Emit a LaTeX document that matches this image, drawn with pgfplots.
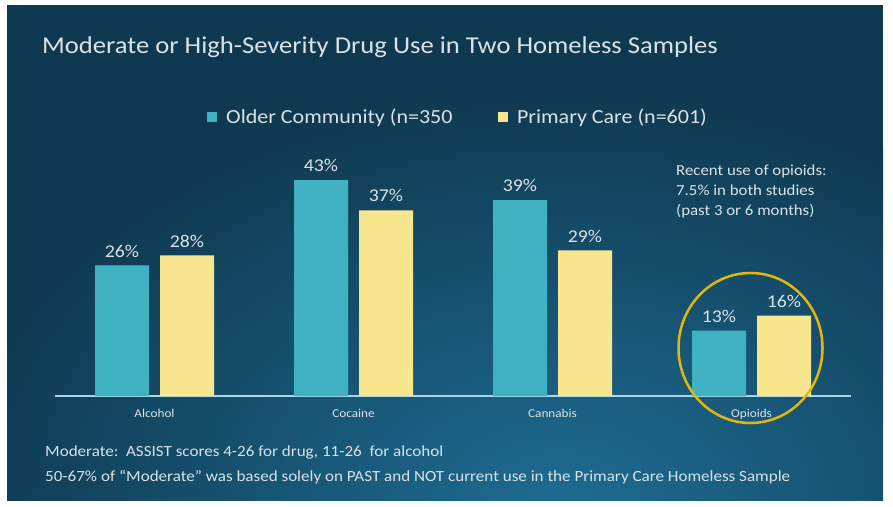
\documentclass[border=0pt]{standalone}
\usepackage{pgfplots}
\pgfplotsset{compat=1.18}
\usepackage{fontspec}
\setmainfont{Carlito}[FakeStretch=1.1]
\definecolor{bgdark}{RGB}{15,57,80}
\definecolor{bglight}{RGB}{30,108,146}
\definecolor{tealbar}{RGB}{64,177,193}
\definecolor{yellowbar}{RGB}{248,230,142}
\definecolor{axiscol}{RGB}{169,214,230}
\definecolor{txtcol}{RGB}{218,226,231}
\definecolor{ringcol}{RGB}{227,184,12}
\begin{document}
\begin{tikzpicture}[x=1pt,y=1pt]
\useasboundingbox (0,0) rectangle (893,506);
\fill[white] (0,0) rectangle (893,506);
\begin{scope}
\clip (7,6) rectangle (883,501);
\fill[bgdark] (7,6) rectangle (883,501);
\shade[inner color=bglight, outer color=bgdark] (560,0) ellipse [x radius=620, y radius=420];
\end{scope}
\node[anchor=base west, text=txtcol, font=\fontsize{24.2}{28}\selectfont, inner sep=0pt] at (42,452) {Moderate or High-Severity Drug Use in Two Homeless Samples};
\begin{axis}[
  at={(55pt,110pt)}, anchor=south west,
  scale only axis, width=796pt, height=251pt,
  xmin=-0.5, xmax=3.5, ymin=0, ymax=50,
  axis x line=bottom, axis y line=none,
  x axis line style={draw=axiscol, line width=1.5pt, -},
  xtick=data, xticklabels={Alcohol,Cocaine,Cannabis,Opioids},
  xtick style={draw=none}, ytick=\empty,
  x tick label style={font=\fontsize{12}{13}\selectfont, text=txtcol, yshift=-5pt},
  /pgf/number format/assume math mode=true,
  ybar, bar width=54pt,
  nodes near coords={\pgfmathprintnumber{\pgfplotspointmeta}\%},
  every node near coord/.append style={font=\fontsize{18}{20}\selectfont, text=txtcol, anchor=base, inner sep=0pt, yshift=8.4pt},
  legend style={draw=none, fill=none, text=txtcol, font=\fontsize{20}{22}\selectfont,
    at={(0.506,1.112)}, anchor=center, legend columns=2,
    /tikz/every odd column/.append style={column sep=7pt},
    /tikz/every even column/.append style={column sep=43pt}},
  legend image code/.code={\fill[#1] (0pt,-5.25pt) rectangle (10.5pt,5.25pt);},
  clip=false,
]
\addplot[fill=tealbar, draw=none, bar shift=-32.5pt] coordinates {(0,26) (1,43) (2,39) (3,13)};
\addplot[fill=yellowbar, draw=none, bar shift=32.5pt] coordinates {(0,28) (1,37) (2,29) (3,16)};
\legend{Older Community (n=350,Primary Care (n=601)}
\draw[ringcol, line width=2.5pt] (axis cs:3,0) ++(-1pt,48pt) ellipse [x radius=72pt, y radius=75pt];
\end{axis}
\node[anchor=base west, text=txtcol, font=\fontsize{15.3}{20}\selectfont, align=left, inner sep=0pt] at (676,290) {Recent use of opioids:\\7.5\% in both studies\\(past 3 or 6 months)};
\node[anchor=base west, text=txtcol, font=\fontsize{15.5}{17}\selectfont, inner sep=0pt] at (45,50) {Moderate:\ \ ASSIST scores 4-26 for drug, 11-26 \ for alcohol};
\node[anchor=base west, text=txtcol, font=\fontsize{15.5}{17}\selectfont, inner sep=0pt] at (45,25) {50-67\% of “Moderate” was based solely on PAST and NOT current use in the Primary Care Homeless Sample};
\end{tikzpicture}
\end{document}
